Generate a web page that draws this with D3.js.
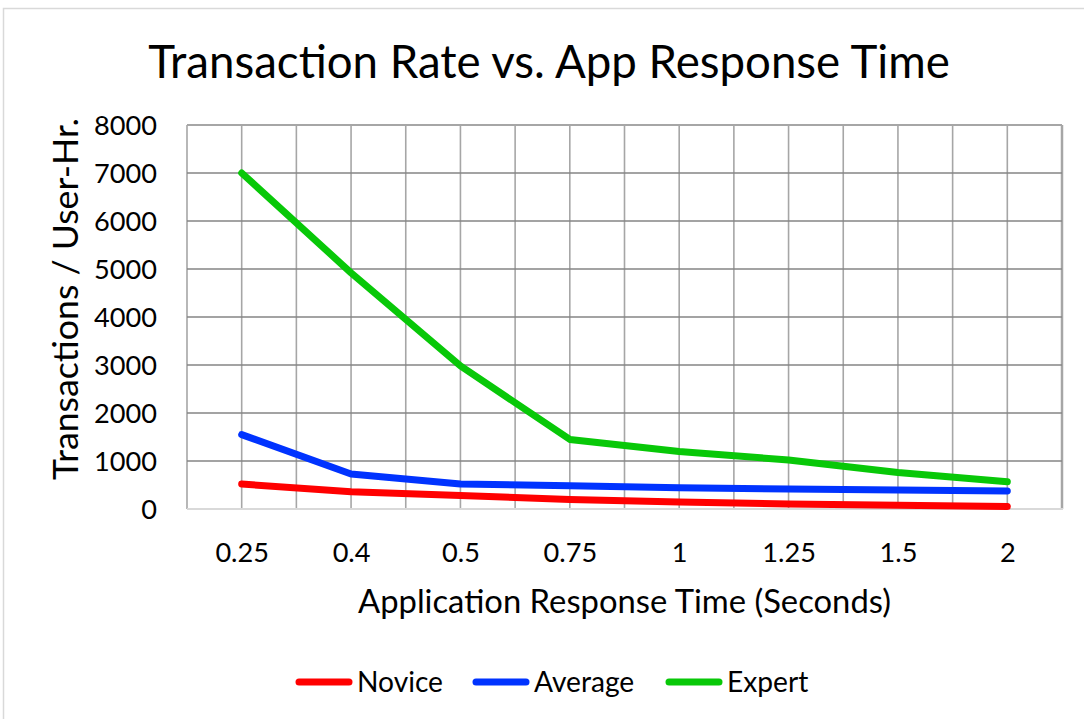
<!DOCTYPE html>
<html>
<head>
<meta charset="utf-8">
<script src="https://cdn.jsdelivr.net/npm/d3@7"></script>
<style>
  html, body { margin: 0; padding: 0; background: #fff; }
  svg { display: block; }
  text { font-family: Lato, "Open Sans", "Liberation Sans", sans-serif; fill: #000; }
</style>
</head>
<body>
<svg id="chart" width="1084" height="719"></svg>
<script>
// ---- data ----
const categories = ["0.25", "0.4", "0.5", "0.75", "1", "1.25", "1.5", "2"];
const novice  = [520, 360, 280, 200, 145, 105, 80, 50];
const average = [1550, 730, 520, 485, 445, 415, 395, 375];
const expert  = [7000, 4920, 2980, 1450, 1200, 1020, 760, 570];
const yTicks = [0, 1000, 2000, 3000, 4000, 5000, 6000, 7000, 8000];
const seriesNames = ["Novice", "Average", "Expert"];
const seriesColors = ["#FF0000", "#0033FF", "#08C808"];
const titleText = "Transaction Rate vs. App Response Time";
const xTitleText = "Application Response Time (Seconds)";
const yTitleText = "Transactions / User-Hr.";

const series = [novice, average, expert];

const svg = d3.select("#chart");
const W = 1084, H = 719;
const plot = { left: 187, right: 1062, top: 125, bottom: 509 };

// outer frame
svg.append("rect")
  .attr("x", 3.5).attr("y", 8.5).attr("width", W + 10).attr("height", H + 10)
  .attr("fill", "#fff").attr("stroke", "#D9D9D9").attr("stroke-width", 1.5);

const x = d3.scaleBand().domain(categories).range([plot.left, plot.right]).padding(0);
const xc = c => x(c) + x.bandwidth() / 2;
const y = d3.scaleLinear().domain([0, 8000]).range([plot.bottom, plot.top]);

// helper to fit font-size to a target width
function fitSize(str, targetWidth, base) {
  const t = svg.append("text").attr("font-size", base).text(str);
  const w = t.node().getComputedTextLength();
  t.remove();
  return base * targetWidth / w;
}

// vertical gridlines (band edges and centers)
const vPos = [];
categories.forEach(c => { vPos.push(x(c)); vPos.push(xc(c)); });
vPos.push(plot.right);
svg.append("g").selectAll("line").data(vPos).join("line")
  .attr("x1", d => d).attr("x2", d => d)
  .attr("y1", plot.top).attr("y2", plot.bottom)
  .attr("stroke", "#A6A6A6")
  .attr("stroke-width", (d, i) => (i === vPos.length - 1 ? 2.5 : 1.6));

// horizontal gridlines
svg.append("g").selectAll("line").data(yTicks.filter(v => v > 0)).join("line")
  .attr("x1", plot.left).attr("x2", plot.right)
  .attr("y1", d => y(d)).attr("y2", d => y(d))
  .attr("stroke", d => d === 8000 ? "#A6A6A6" : "#858585")
  .attr("stroke-width", d => d === 8000 ? 2 : 1.5);

// bottom axis line
svg.append("line")
  .attr("x1", plot.left).attr("x2", plot.right + 1)
  .attr("y1", y(0)).attr("y2", y(0))
  .attr("stroke", "#D9D9D9").attr("stroke-width", 2);

// tick font size
const tickSize = fitSize("8000", 63, 30);
const legendSize = fitSize("Novice", 86, 30);

// y ticks
const yAxis = d3.axisLeft(y).tickValues(yTicks).tickSize(0).tickPadding(0).tickFormat(d3.format("d"));
const gy = svg.append("g").attr("transform", `translate(157,0)`).call(yAxis);
gy.select(".domain").remove();
gy.selectAll("text").attr("font-size", tickSize).attr("font-family", null)
  .attr("fill", "#000").attr("dy", "0.36em").attr("x", 0);

// x ticks
const xPoint = d3.scalePoint().domain(categories).range([xc(categories[0]), xc(categories[categories.length - 1])]);
const xAxis = d3.axisBottom(xPoint).tickSize(0).tickPadding(0);
const gx = svg.append("g").attr("transform", `translate(0,562)`).call(xAxis);
gx.select(".domain").remove();
gx.selectAll("text").attr("font-size", tickSize).attr("font-family", null)
  .attr("fill", "#000").attr("dy", 0).attr("y", 0);

// lines
const line = d3.line().x((d, i) => xc(categories[i])).y(d => y(d));
svg.append("g").selectAll("path").data(series).join("path")
  .attr("d", d => line(d))
  .attr("fill", "none")
  .attr("stroke", (d, i) => seriesColors[i])
  .attr("stroke-width", 7)
  .attr("stroke-linecap", "round")
  .attr("stroke-linejoin", "round");

// title
svg.append("text").attr("x", 549).attr("y", 78).attr("text-anchor", "middle")
  .attr("font-size", fitSize(titleText, 802, 48)).text(titleText);

// x axis title
svg.append("text").attr("x", 624.5).attr("y", 613).attr("text-anchor", "middle")
  .attr("font-size", fitSize(xTitleText, 533, 34)).text(xTitleText);

// y axis title
svg.append("text").attr("transform", "translate(78,299) rotate(-90)").attr("text-anchor", "middle")
  .attr("font-size", fitSize(yTitleText, 362, 34)).text(yTitleText);

// legend
const legendX = [296, 473, 666];
const lg = svg.append("g");
seriesNames.forEach((name, i) => {
  lg.append("line")
    .attr("x1", legendX[i] + 3).attr("x2", legendX[i] + 53)
    .attr("y1", 682).attr("y2", 682)
    .attr("stroke", seriesColors[i]).attr("stroke-width", 7).attr("stroke-linecap", "round");
  lg.append("text").attr("x", legendX[i] + 61).attr("y", 692)
    .attr("font-size", legendSize).text(name);
});
</script>
</body>
</html>
